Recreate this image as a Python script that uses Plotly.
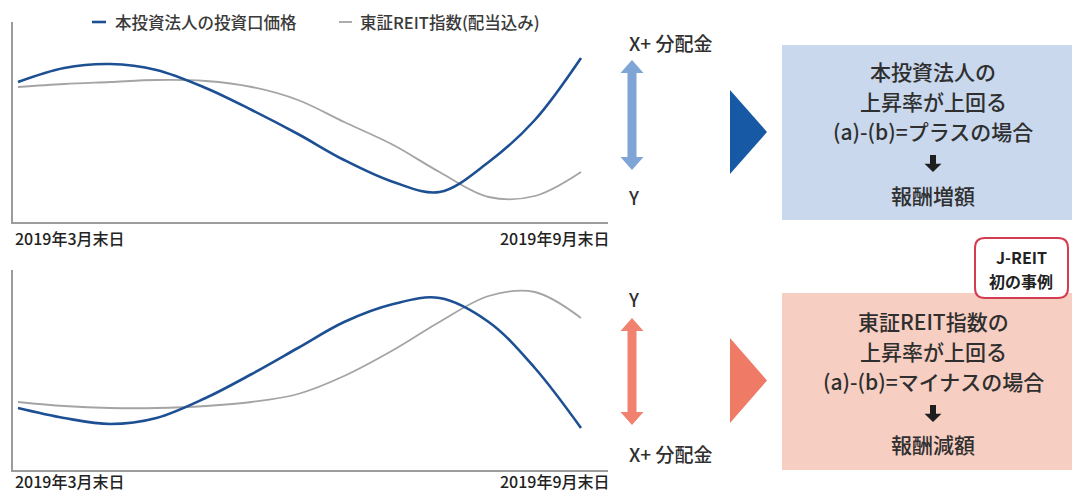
import plotly.graph_objects as go

# --- data -------------------------------------------------------------
dates = ["2019-03-31", "2019-04-15", "2019-04-30", "2019-05-15", "2019-05-31",
         "2019-06-15", "2019-06-30", "2019-07-15", "2019-07-31", "2019-08-15",
         "2019-08-31", "2019-09-15", "2019-09-30"]

# case 1: the fund outperforms the index
fund_up = [70, 77, 79, 76, 67, 56, 44, 31, 20, 15, 30, 51, 82]
reit_up = [67.5, 69, 70, 71, 70.5, 67.5, 61, 50, 38.5, 25, 12.5, 13, 25]

# case 2: the index outperforms the fund
fund_down = [31, 26, 23, 26, 36, 48, 61, 74, 83, 86, 74, 51, 21]
reit_down = [34, 32, 31, 31, 32, 34, 38, 47, 60, 74, 87, 89, 76]

series_names = ["本投資法人の投資口価格", "東証REIT指数(配当込み)"]
date_labels = ["2019年3月末日", "2019年9月末日"]

case_texts = [
    ["本投資法人の", "上昇率が上回る", "(a)-(b)=プラスの場合", "報酬増額"],
    ["東証REIT指数の", "上昇率が上回る", "(a)-(b)=マイナスの場合", "報酬減額"],
]
spread_labels = ["X+ 分配金", "Y"]
badge_lines = ["J-REIT", "初の事例"]

# --- styling ----------------------------------------------------------
W, H = 1072, 493
FONT = "Noto Sans CJK JP"
BLUE = "#1d4f93"
GREY = "#a4a4a4"
TXT = "#2f2f2f"


def px(x):
    return x / W


def py(y):
    return 1 - y / H


fig = go.Figure()

for i, (fund, reit) in enumerate([(fund_up, reit_up), (fund_down, reit_down)]):
    xa = "x" if i == 0 else "x2"
    ya = "y" if i == 0 else "y2"
    fig.add_trace(go.Scatter(x=dates, y=reit, mode="lines", name=series_names[1],
                             line=dict(color=GREY, width=1.8, shape="spline"),
                             xaxis=xa, yaxis=ya, showlegend=False))
    fig.add_trace(go.Scatter(x=dates, y=fund, mode="lines", name=series_names[0],
                             line=dict(color=BLUE, width=2.6, shape="spline"),
                             xaxis=xa, yaxis=ya, showlegend=False))

x_range = ["2019-03-29 09:00", "2019-10-08 18:40"]
axis_style = dict(showline=True, linecolor="#9c9c9c", linewidth=1.5, showgrid=False,
                  zeroline=False, showticklabels=False, ticks="")

fig.update_layout(
    width=W, height=H,
    margin=dict(l=0, r=0, t=0, b=0),
    paper_bgcolor="white", plot_bgcolor="white",
    font=dict(family=FONT, color=TXT),
    xaxis=dict(domain=[px(13), px(608)], range=x_range, anchor="y", type="date", **axis_style),
    yaxis=dict(domain=[py(222), py(22)], range=[0, 100], anchor="x", **axis_style),
    xaxis2=dict(domain=[px(13), px(608)], range=x_range, anchor="y2", type="date", **axis_style),
    yaxis2=dict(domain=[py(470), py(270)], range=[0, 100], anchor="x2", **axis_style),
)

shapes = []
annotations = []


def text(x, y, s, size, anchor="center", color=TXT, bold=False, weight=500):
    annotations.append(dict(
        x=px(x), y=py(y), xref="paper", yref="paper", text=f"<b>{s}</b>" if bold else s,
        showarrow=False, xanchor=anchor, yanchor="middle",
        font=dict(family=FONT, size=size, color=color, weight=700 if bold else weight)))


# legend line keys and names
for x0, x1, col, w, name, tx in [(92, 106, BLUE, 2.6, series_names[0], 113),
                                 (339, 352, GREY, 1.8, series_names[1], 358)]:
    shapes.append(dict(type="line", xref="paper", yref="paper",
                       x0=px(x0), x1=px(x1), y0=py(22), y1=py(22),
                       line=dict(color=col, width=w)))
    text(tx, 22, name, 16.5, anchor="left", color="#3a3a3a")

# date labels under each panel
for xd, ylab in [("x", 238), ("x2", 481)]:
    for j, lab in enumerate(date_labels):
        annotations.append(dict(
            x=0 if j == 0 else 1.007, y=py(ylab), xref=f"{xd} domain", yref="paper",
            text=lab, showarrow=False, xanchor="left" if j == 0 else "right",
            yanchor="middle", font=dict(family=FONT, size=16, color="#222", weight=500)))


def double_arrow(cx, top, bottom, color, hw=11.5, hh=13, sw=4.5):
    pts = [(cx, top), (cx + hw, top + hh), (cx + sw, top + hh), (cx + sw, bottom - hh),
           (cx + hw, bottom - hh), (cx, bottom), (cx - hw, bottom - hh), (cx - sw, bottom - hh),
           (cx - sw, top + hh), (cx - hw, top + hh)]
    path = "M " + " L ".join(f"{px(a):.5f},{py(b):.5f}" for a, b in pts) + " Z"
    shapes.append(dict(type="path", xref="paper", yref="paper", path=path,
                       fillcolor=color, line=dict(width=0)))


def down_arrow(cx, top, bottom, color="#1e1e1e"):
    mid = top + (bottom - top) * 0.52
    pts = [(cx - 3, top), (cx + 3, top), (cx + 3, mid), (cx + 8.5, mid), (cx, bottom),
           (cx - 8.5, mid), (cx - 3, mid)]
    path = "M " + " L ".join(f"{px(a):.5f},{py(b):.5f}" for a, b in pts) + " Z"
    shapes.append(dict(type="path", xref="paper", yref="paper", path=path,
                       fillcolor=color, line=dict(width=0)))


def triangle(x0, top, bottom, tip, color):
    mid = (top + bottom) / 2
    path = (f"M {px(x0):.5f},{py(top):.5f} L {px(tip):.5f},{py(mid):.5f} "
            f"L {px(x0):.5f},{py(bottom):.5f} Z")
    shapes.append(dict(type="path", xref="paper", yref="paper", path=path,
                       fillcolor=color, line=dict(width=0)))


def rect(x0, y0, x1, y1, color):
    shapes.append(dict(type="rect", xref="paper", yref="paper", x0=px(x0), x1=px(x1),
                       y0=py(y1), y1=py(y0), fillcolor=color, line=dict(width=0), layer="below"))


# spread arrows between the two series
double_arrow(632, 60, 170, "#7fa4d6")
text(670, 43, spread_labels[0], 19)
text(633, 197, spread_labels[1], 18)

double_arrow(632, 318, 425, "#f0826f")
text(633, 299, spread_labels[1], 18)
text(670, 453, spread_labels[0], 19)

# result panels
triangle(730, 90, 174, 767, "#1859a6")
triangle(730, 338, 423, 767, "#ef7a66")
rect(782, 45, 1072, 220, "#c9d8ed")
rect(782, 293, 1072, 470, "#f7cec2")

for lines, ys, arrow in [(case_texts[0], [71, 101, 131, 195], (155, 172)),
                         (case_texts[1], [321, 351, 381, 444], (405, 422))]:
    for s, yy in zip(lines, ys):
        text(933, yy, s, 21)
    down_arrow(933, *arrow)

# badge with rounded corners
bx0, bx1, by0, by1, r = 975, 1068, 238, 298, 10
badge = (f"M {px(bx0 + r)},{py(by0)} L {px(bx1 - r)},{py(by0)} "
         f"Q {px(bx1)},{py(by0)} {px(bx1)},{py(by0 + r)} L {px(bx1)},{py(by1 - r)} "
         f"Q {px(bx1)},{py(by1)} {px(bx1 - r)},{py(by1)} L {px(bx0 + r)},{py(by1)} "
         f"Q {px(bx0)},{py(by1)} {px(bx0)},{py(by1 - r)} L {px(bx0)},{py(by0 + r)} "
         f"Q {px(bx0)},{py(by0)} {px(bx0 + r)},{py(by0)} Z")
shapes.append(dict(type="path", xref="paper", yref="paper", path=badge,
                   fillcolor="white", line=dict(color="#d43c52", width=2)))
text(1021, 257, badge_lines[0], 16, bold=True, color="#222")
text(1021, 281, badge_lines[1], 16, bold=True, color="#222")

fig.update_layout(shapes=shapes, annotations=annotations)
fig.write_html("out.html")
